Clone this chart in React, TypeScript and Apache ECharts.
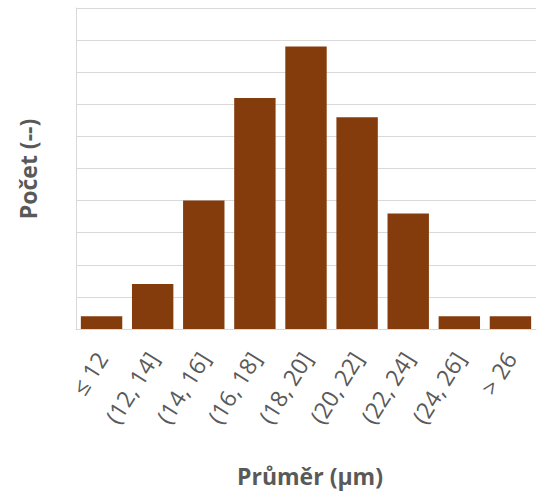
import React, { useEffect, useRef } from "react";
import * as echarts from "echarts";

const categories = ["≤ 12", "(12, 14]", "(14, 16]", "(16, 18]", "(18, 20]", "(20, 22]", "(22, 24]", "(24, 26]", "> 26"];
const counts = [2, 7, 20, 36, 44, 33, 18, 2, 2];
const xTitle = "Průměr (μm)";
const yTitle = "Počet (--)";

export default function App() {
  const ref = useRef<HTMLDivElement>(null);
  useEffect(() => {
    if (!ref.current) return;
    const chart = echarts.init(ref.current, null, { renderer: "svg" });
    const font = "'Open Sans', sans-serif";
    chart.setOption({
      animation: false,
      grid: { left: 76, right: 1, top: 8, bottom: 164, containLabel: false },
      xAxis: {
        type: "category",
        data: categories,
        axisLine: { show: true, lineStyle: { color: "#d9d9d9", width: 1 } },
        axisTick: { show: false },
        axisLabel: { rotate: 58, margin: 25, fontSize: 23, color: "#595959", fontFamily: font, interval: 0 },
      },
      yAxis: {
        type: "value",
        min: 0,
        max: 50,
        interval: 5,
        axisLabel: { show: false },
        axisTick: { show: false },
        axisLine: { show: true, lineStyle: { color: "#d9d9d9", width: 1 } },
        splitLine: { show: true, lineStyle: { color: "#d9d9d9", width: 1 } },
      },
      graphic: [
        {
          type: "text",
          x: 310,
          y: 476,
          style: { text: xTitle, font: `bold 23px ${font}`, fill: "#595959", textAlign: "center", textVerticalAlign: "middle" },
        },
        {
          type: "text",
          x: 28,
          y: 169,
          rotation: Math.PI / 2,
          style: { text: yTitle, font: `bold 23px ${font}`, fill: "#595959", textAlign: "center", textVerticalAlign: "middle" },
        },
      ],
      series: [
        {
          type: "bar",
          data: counts,
          barCategoryGap: "19%",
          itemStyle: { color: "#843C0C" },
        },
      ],
    });
    return () => chart.dispose();
  }, []);
  return <div ref={ref} style={{ position: "absolute", left: 0, top: 0, width: 537, height: 493 }} />;
}
